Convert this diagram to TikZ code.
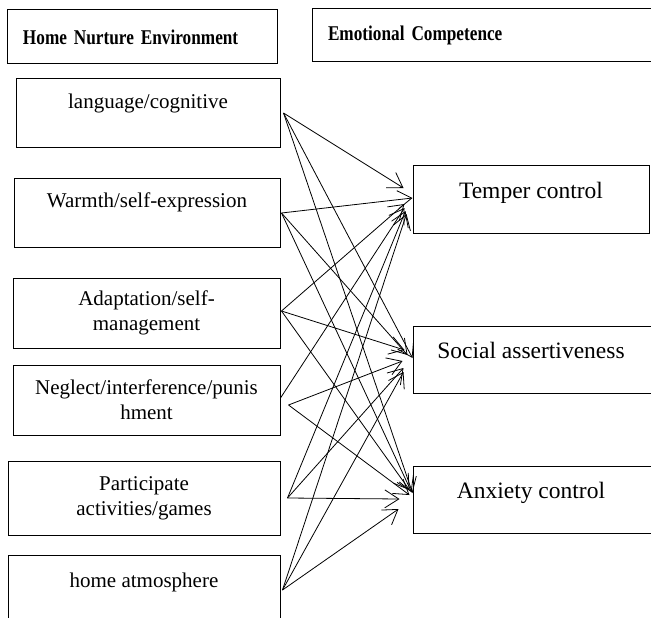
\documentclass[tikz,border=0pt]{standalone}
\usepackage{fontspec}
\setmainfont{Liberation Serif}
\newfontfamily\hdrfont[FakeStretch=0.82]{Liberation Serif}
\usetikzlibrary{arrows.meta}
\tikzset{
  box/.style={draw, line width=1pt, rectangle, inner sep=0pt, align=center},
  leftbox/.style={box, font=\fontsize{21}{25}\selectfont},
  onel/.style={text height=15pt, text depth=25pt},
  rightbox/.style={box, font=\fontsize{23.5}{28}\selectfont, text height=17pt, text depth=19pt},
  hdr/.style={draw, line width=1pt, rectangle, inner xsep=16pt, inner ysep=0pt, align=left,
              font=\hdrfont\bfseries\fontsize{21}{25}\selectfont},
  link/.style={line width=0.8pt, -{Straight Barb[length=14pt,width=18pt]}}
}
\newcommand{\rtext}[1]{\makebox[236pt][c]{#1}\hspace*{64pt}}
\begin{document}
\begin{tikzpicture}[x=1pt,y=-1pt]
\useasboundingbox (0,0) rectangle (651,618);
\clip (0,0) rectangle (651,618);
% headers
\node[hdr, text width=238pt, minimum height=54pt] (H1) at (142,37) {Home Nurture Environment};
\node[hdr, text width=368pt, minimum height=53pt] (H2) at (512,35.5) {Emotional Competence};
% left boxes
\node[leftbox, onel, minimum width=264pt, minimum height=68pt] (b1) at (148,113) {language/cognitive};
\node[leftbox, onel, minimum width=266pt, minimum height=69pt] (b2) at (147,212.5) {Warmth/self-expression};
\node[leftbox, minimum width=267pt, minimum height=70pt] (b3) at (146.5,313) {Adaptation/self-\\management};
\node[leftbox, minimum width=267pt, minimum height=70pt] (b4) at (146.5,400) {Neglect/interference/punis\\hment};
\node[leftbox, minimum width=272pt, minimum height=74pt] (b5) at (144,498) {Participate\\activities/games};
\node[leftbox, onel, minimum width=272pt, minimum height=75pt] (b6) at (144,592.5) {home atmosphere};
% right boxes
\node[rightbox, minimum width=236pt, minimum height=68pt] (T) at (531,199) {Temper control};
\node[rightbox, minimum width=300pt, minimum height=67pt] (S) at (563,359.5) {\rtext{Social assertiveness}};
\node[rightbox, minimum width=300pt, minimum height=67pt] (A) at (563,499.5) {\rtext{Anxiety control}};
% connectors from language/cognitive
\draw[link] ([xshift=3pt]b1.east) -- ([xshift=-9pt,yshift=11pt]T.west);
\draw[link] ([xshift=3pt]b1.east) -- ([yshift=1.5pt]S.west);
\draw[link] ([xshift=3pt]b1.east) -- ([yshift=6.5pt]A.west);
% Warmth
\draw[link] ([xshift=1pt,yshift=-0.5pt]b2.east) -- ([yshift=1pt]T.west);
\draw[link] ([xshift=1pt,yshift=-0.5pt]b2.east) -- ([xshift=-5pt,yshift=4.5pt]S.west);
\draw[link] ([xshift=1pt,yshift=-0.5pt]b2.east) -- ([xshift=-1pt,yshift=7.5pt]A.west);
% Adaptation
\draw[link] ([xshift=1pt,yshift=2pt]b3.east) -- ([xshift=-8pt,yshift=-5pt]T.west);
\draw[link] ([xshift=1pt,yshift=2pt]b3.east) -- ([xshift=-8pt,yshift=9.5pt]S.west);
\draw[link] ([xshift=1pt,yshift=2pt]b3.east) -- ([xshift=-3pt,yshift=9.5pt]A.west);
% Neglect
\draw[link] ([yshift=2pt]b4.east) -- ([xshift=-8pt,yshift=-9pt]T.west);
\draw[link] ([xshift=8pt,yshift=-5pt]b4.east) -- ([xshift=-10pt,yshift=-1.5pt]S.west);
\draw[link] ([xshift=8pt,yshift=-5pt]b4.east) -- ([xshift=-3pt,yshift=4.5pt]A.west);
% Participate
\draw[link] ([xshift=7pt]b5.east) -- ([xshift=-7pt,yshift=-12pt]T.west);
\draw[link] ([xshift=7pt]b5.east) -- ([xshift=-9pt,yshift=-8.5pt]S.west);
\draw[link] ([xshift=7pt]b5.east) -- ([xshift=-13pt,yshift=0.5pt]A.west);
% home atmosphere
\draw[link] ([xshift=2pt,yshift=2.5pt]b6.east) -- ([xshift=-6pt,yshift=-15pt]T.west);
\draw[link] ([xshift=2pt,yshift=2.5pt]b6.east) -- ([xshift=-9pt,yshift=-12.5pt]S.west);
\draw[link] ([xshift=2pt,yshift=2.5pt]b6.east) -- ([xshift=-14pt,yshift=-9.5pt]A.west);
\end{tikzpicture}
\end{document}
